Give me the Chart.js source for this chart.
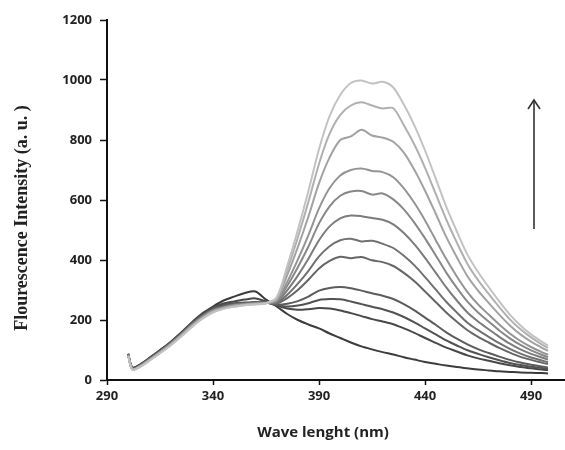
<!DOCTYPE html>
<html>
<head>
<meta charset="utf-8">
<script src="https://cdn.jsdelivr.net/npm/chart.js@4.4.1/dist/chart.umd.min.js"></script>
<style>
  html, body { margin: 0; padding: 0; background: #ffffff; }
  #wrap { width: 565px; height: 450px; position: relative; }
</style>
</head>
<body>
<div id="wrap"><canvas id="c" width="565" height="450"></canvas></div>
<script>
// ---- data ----
const wavelengths = [300,302,306,310,315,320,325,330,335,340,345,350,355,360,365,
  370,375,380,385,390,395,400,405,410,415,420,425,430,435,440,445,450,455,460,465,470,475,480,485,490,495,498];

const s1  = [80,34,45,64,89,115,145,176,204,225,237,244,249,252,256,
  275,380,500,630,770,880,950,990,998,988,994,975,918,848,765,672,578,495,418,360,310,262,218,182,152,128,115];
const s2  = [81,35,46,65,90,116,146,178,205,227,238,245,250,253,256,
  273,367,475,594,721,821,884,915,926,915,905,906,849,784,707,621,535,458,387,333,287,243,202,169,142,119,107];
const s3  = [82,35,47,66,91,118,148,180,207,229,240,247,251,254,257,
  269,350,443,545,656,742,800,812,834,815,808,794,758,700,631,555,477,409,346,298,257,218,182,152,128,108,97];
const s4  = [82,36,48,67,92,119,150,182,209,230,241,248,252,255,257,
  265,327,401,483,572,640,682,700,705,697,693,676,639,590,532,467,403,345,293,252,218,185,155,130,110,93,84];
const s5  = [83,36,48,68,93,120,150,183,210,231,242,249,252,255,257,
  263,314,376,445,522,579,614,628,630,618,622,602,569,524,472,416,358,307,261,225,195,165,139,117,99,84,76];
const s6  = [83,37,49,68,94,121,151,184,211,232,243,250,253,256,257,
  260,299,348,404,466,512,539,548,546,540,534,519,490,452,407,358,309,265,225,195,169,144,121,102,87,75,68];
const s7  = [84,37,50,69,94,122,152,185,212,233,244,251,254,256,258,
  257,284,321,364,412,446,466,471,462,464,454,440,414,382,343,302,261,225,191,166,144,123,104,88,75,65,59];
const s8  = [84,38,50,70,95,122,153,186,213,234,245,252,255,257,258,
  255,273,300,334,372,397,411,406,410,399,393,380,357,329,295,260,225,194,166,144,125,107,91,77,67,58,53];
const s9  = [85,38,51,70,96,123,154,187,215,236,247,253,256,258,258,
  251,254,263,278,298,307,310,306,298,289,281,270,253,232,208,184,159,138,119,103,90,78,67,58,51,45,42];
const s10 = [85,40,52,72,97,125,156,189,218,239,250,256,258,260,258,
  250,245,248,256,267,270,269,262,253,244,236,225,210,192,172,152,132,115,99,87,76,66,57,50,44,40,37];
const s11 = [86,40,52,72,98,126,157,190,220,242,255,262,268,272,262,
  248,238,234,236,240,238,232,223,213,203,195,186,172,157,140,124,108,95,82,72,64,56,49,43,39,35,33];
const s12 = [88,42,54,74,100,127,158,192,222,245,265,278,290,295,268,
  245,220,200,185,172,155,140,125,112,102,93,85,76,68,60,54,48,43,39,35,32,29,27,25,24,23,22];

const seriesList = [s1,s2,s3,s4,s5,s6,s7,s8,s9,s10,s11,s12];
const xTickValues = [290,340,390,440,490];
const yTickValues = [0,200,400,600,800,1000,1200];
const xTitle = 'Wave lenght (nm)';
const yTitle = 'Flourescence Intensity (a. u. )';

// ---- styles ----
const lineColors = ['#c2c2c2','#b0b0b0','#a2a2a2','#949494','#888888','#7c7c7c',
                    '#717171','#666666','#5c5c5c','#525252','#484848','#3c3c3c'];

const datasets = seriesList.map((s, i) => ({
  label: 'S' + (i + 1),
  data: wavelengths.map((w, j) => ({ x: w, y: s[j] })),
  borderColor: lineColors[i],
  borderWidth: 2,
  pointRadius: 0,
  tension: 0.3,
  fill: false
}));

const decorPlugin = {
  id: 'decor',
  afterDraw(chart) {
    const ctx = chart.ctx;
    ctx.save();
    // y title
    ctx.fillStyle = '#222';
    ctx.font = 'bold 18px "Liberation Serif", "Times New Roman", serif';
    ctx.textAlign = 'center';
    ctx.textBaseline = 'middle';
    ctx.translate(22, 218);
    ctx.rotate(-Math.PI / 2);
    ctx.fillText(yTitle, 0, 0);
    ctx.restore();
    ctx.save();
    // x title
    ctx.fillStyle = '#222';
    ctx.font = 'bold 15px "Open Sans", sans-serif';
    ctx.textAlign = 'center';
    ctx.textBaseline = 'middle';
    ctx.fillText(xTitle, 323, 433);
    // arrow
    ctx.strokeStyle = '#333';
    ctx.lineWidth = 1.6;
    ctx.beginPath();
    ctx.moveTo(534, 229);
    ctx.lineTo(534, 100);
    ctx.stroke();
    ctx.beginPath();
    ctx.moveTo(528, 109);
    ctx.lineTo(534, 100);
    ctx.lineTo(540, 109);
    ctx.stroke();
    ctx.restore();
  }
};

new Chart(document.getElementById('c'), {
  type: 'line',
  data: { datasets },
  options: {
    responsive: false,
    animation: false,
    layout: { padding: { left: 0, top: 20, right: 0, bottom: 0 } },
    plugins: { legend: { display: false }, tooltip: { enabled: false } },
    scales: {
      x: {
        type: 'linear',
        min: 290, max: 506,
        afterBuildTicks: (scale) => { scale.ticks = xTickValues.map(v => ({ value: v })); },
        afterFit: (scale) => { scale.height = 70; },
        border: { color: '#111', width: 2 },
        grid: { drawOnChartArea: false, drawTicks: true, tickLength: 5, tickColor: '#111', tickWidth: 1.5 },
        ticks: { color: '#222', padding: 3, maxRotation: 0, callback: (v) => String(v),
                 font: { family: '"Open Sans", sans-serif', size: 13, weight: 'bold' } }
      },
      y: {
        min: 0, max: 1200,
        afterBuildTicks: (scale) => { scale.ticks = yTickValues.map(v => ({ value: v })); },
        afterFit: (scale) => { scale.width = 107; },
        border: { color: '#111', width: 2 },
        grid: { drawOnChartArea: false, drawTicks: true, tickLength: 7, tickColor: '#111', tickWidth: 1.5 },
        ticks: { color: '#222', padding: 8, callback: (v) => String(v),
                 font: { family: '"Open Sans", sans-serif', size: 13, weight: 'bold' } }
      }
    }
  },
  plugins: [decorPlugin]
});
</script>
</body>
</html>
